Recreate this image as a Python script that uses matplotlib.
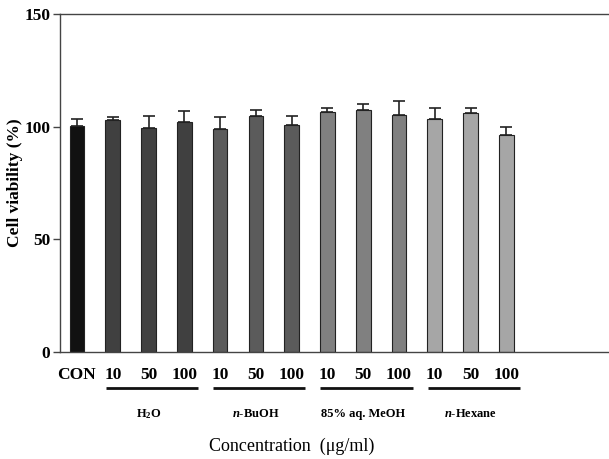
import matplotlib
matplotlib.use("Agg")
import matplotlib.pyplot as plt
import numpy as np

plt.rcParams['font.family'] = ['Liberation Serif', 'DejaVu Serif']

# ---- data ----
tick_labels = ["CON", "10", "50", "100", "10", "50", "100", "10", "50", "100", "10", "50", "100"]
viability = [100.1, 102.8, 99.4, 101.9, 98.9, 104.6, 100.6, 106.7, 107.3, 105.0, 103.4, 105.9, 96.3]
errors = [3.3, 1.5, 5.2, 4.9, 5.6, 2.7, 4.0, 1.5, 2.7, 6.2, 4.7, 2.2, 3.5]
group_names = ["H$_2$O", "$\\mathbfit{n}$-BuOH", "85% aq. MeOH", "$\\mathbfit{n}$-Hexane"]
group_members = [[1, 2, 3], [4, 5, 6], [7, 8, 9], [10, 11, 12]]
bar_colors = ["#111111"] + ["#404040"] * 3 + ["#5b5b5b"] * 3 + ["#808080"] * 3 + ["#a6a6a6"] * 3
y_ticks = [0, 50, 100, 150]

plt.rcParams['mathtext.fontset'] = 'custom'
plt.rcParams['mathtext.rm'] = 'Liberation Serif:bold'
plt.rcParams['mathtext.bfit'] = 'Liberation Serif:bold:italic'
plt.rcParams['mathtext.it'] = 'Liberation Serif:bold:italic'
plt.rcParams['mathtext.bf'] = 'Liberation Serif:bold'

W, H = 609, 459
fig = plt.figure(figsize=(W / 100, H / 100), dpi=100)
ax_left, ax_bottom, ax_top = 60 / W, 1 - 352 / H, 1 - 14 / H
ax = fig.add_axes([ax_left, ax_bottom, 1 - ax_left, ax_top - ax_bottom])

x = np.arange(len(viability))
ax.bar(x, viability, width=0.41, color=bar_colors, edgecolor="#222222", linewidth=0.8, zorder=2)
ax.errorbar(x, viability, yerr=[np.zeros(len(errors)), errors], fmt='none',
            ecolor="#222222", elinewidth=1.2, capsize=4, capthick=1.2, zorder=3)

ax.set_xlim(-0.475, 14.87)
ax.set_ylim(0, 150)
ax.set_yticks(y_ticks)
ax.set_yticklabels([str(v) for v in y_ticks], fontsize=12.5, fontweight='bold')
ax.set_xticks(x)
ax.set_xticklabels(tick_labels, fontsize=12.5, fontweight='bold')
ax.tick_params(axis='x', length=0, pad=11)
ax.tick_params(axis='y', length=5, width=1, color="#444444", pad=2)

for side in ['left', 'bottom', 'top']:
    ax.spines[side].set_color("#444444")
    ax.spines[side].set_linewidth(1.0)
ax.spines['right'].set_visible(False)

fig.text(15 / W, 1 - 183 / H, "Cell viability (%)", rotation=90, ha='center', va='center',
         fontsize=12.5, fontweight='bold')

trans = ax.get_xaxis_transform()
y_line = (352 - 388) / 338
y_group = (352 - 414) / 338
y_title = (352 - 446) / 338
for name, members in zip(group_names, group_members):
    ax.plot([members[0] - 0.2, members[-1] + 0.38], [y_line, y_line], color="#111111",
            lw=2, transform=trans, clip_on=False, solid_capstyle='butt')
    ax.text(members[1], y_group, name, transform=trans, ha='center', va='center',
            fontsize=9, fontweight='bold')

ax.text(6, y_title, "Concentration  (\u03bcg/ml)", transform=trans, ha='center', va='center',
        fontsize=13)

fig.savefig("out.png", dpi=100)
